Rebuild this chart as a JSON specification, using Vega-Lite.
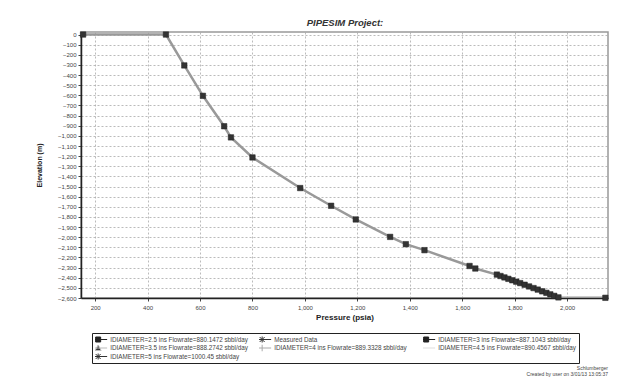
{
  "$schema": "https://vega.github.io/schema/vega-lite/v6.json",
  "width": 527,
  "height": 266,
  "autosize": {"type": "none"},
  "padding": {"left": 81, "top": 32, "right": 12, "bottom": 83},
  "background": "white",
  "title": {
    "text": "Schlumberger",
    "subtitle": "Created by user on 3/01/13 13:05:37",
    "orient": "bottom",
    "anchor": "end",
    "frame": "group",
    "fontSize": 5,
    "subtitleFontSize": 5,
    "fontWeight": "normal",
    "font": "Liberation Sans",
    "subtitleFont": "Liberation Sans",
    "color": "#444",
    "subtitleColor": "#444",
    "subtitlePadding": 1,
    "offset": 2
  },
  "config": {
    "font": "Liberation Sans",
    "view": {"stroke": "#999", "strokeWidth": 1.5},
    "legend": {"symbolSize": 4}
  },
  "datasets": {
    "profile": [
      {"series": "IDIAMETER=2.5 ins Flowrate=880.1472 sbbl/day", "pressure": 154, "elevation": 0},
      {"series": "IDIAMETER=2.5 ins Flowrate=880.1472 sbbl/day", "pressure": 470, "elevation": 0},
      {"series": "IDIAMETER=2.5 ins Flowrate=880.1472 sbbl/day", "pressure": 540, "elevation": -305},
      {"series": "IDIAMETER=2.5 ins Flowrate=880.1472 sbbl/day", "pressure": 611, "elevation": -605},
      {"series": "IDIAMETER=2.5 ins Flowrate=880.1472 sbbl/day", "pressure": 692, "elevation": -905},
      {"series": "IDIAMETER=2.5 ins Flowrate=880.1472 sbbl/day", "pressure": 718, "elevation": -1015},
      {"series": "IDIAMETER=2.5 ins Flowrate=880.1472 sbbl/day", "pressure": 800, "elevation": -1213},
      {"series": "IDIAMETER=2.5 ins Flowrate=880.1472 sbbl/day", "pressure": 982, "elevation": -1515},
      {"series": "IDIAMETER=2.5 ins Flowrate=880.1472 sbbl/day", "pressure": 1100, "elevation": -1690},
      {"series": "IDIAMETER=2.5 ins Flowrate=880.1472 sbbl/day", "pressure": 1194, "elevation": -1825},
      {"series": "IDIAMETER=2.5 ins Flowrate=880.1472 sbbl/day", "pressure": 1325, "elevation": -1997},
      {"series": "IDIAMETER=2.5 ins Flowrate=880.1472 sbbl/day", "pressure": 1385, "elevation": -2069},
      {"series": "IDIAMETER=2.5 ins Flowrate=880.1472 sbbl/day", "pressure": 1456, "elevation": -2128},
      {"series": "IDIAMETER=2.5 ins Flowrate=880.1472 sbbl/day", "pressure": 1628, "elevation": -2284},
      {"series": "IDIAMETER=2.5 ins Flowrate=880.1472 sbbl/day", "pressure": 1650, "elevation": -2309},
      {"series": "IDIAMETER=2.5 ins Flowrate=880.1472 sbbl/day", "pressure": 1732, "elevation": -2369},
      {"series": "IDIAMETER=2.5 ins Flowrate=880.1472 sbbl/day", "pressure": 1746, "elevation": -2383},
      {"series": "IDIAMETER=2.5 ins Flowrate=880.1472 sbbl/day", "pressure": 1761, "elevation": -2397},
      {"series": "IDIAMETER=2.5 ins Flowrate=880.1472 sbbl/day", "pressure": 1776, "elevation": -2411},
      {"series": "IDIAMETER=2.5 ins Flowrate=880.1472 sbbl/day", "pressure": 1791, "elevation": -2425},
      {"series": "IDIAMETER=2.5 ins Flowrate=880.1472 sbbl/day", "pressure": 1806, "elevation": -2439},
      {"series": "IDIAMETER=2.5 ins Flowrate=880.1472 sbbl/day", "pressure": 1821, "elevation": -2453},
      {"series": "IDIAMETER=2.5 ins Flowrate=880.1472 sbbl/day", "pressure": 1838, "elevation": -2469},
      {"series": "IDIAMETER=2.5 ins Flowrate=880.1472 sbbl/day", "pressure": 1855, "elevation": -2486},
      {"series": "IDIAMETER=2.5 ins Flowrate=880.1472 sbbl/day", "pressure": 1872, "elevation": -2502},
      {"series": "IDIAMETER=2.5 ins Flowrate=880.1472 sbbl/day", "pressure": 1888, "elevation": -2517},
      {"series": "IDIAMETER=2.5 ins Flowrate=880.1472 sbbl/day", "pressure": 1905, "elevation": -2534},
      {"series": "IDIAMETER=2.5 ins Flowrate=880.1472 sbbl/day", "pressure": 1921, "elevation": -2549},
      {"series": "IDIAMETER=2.5 ins Flowrate=880.1472 sbbl/day", "pressure": 1936, "elevation": -2564},
      {"series": "IDIAMETER=2.5 ins Flowrate=880.1472 sbbl/day", "pressure": 1951, "elevation": -2579},
      {"series": "IDIAMETER=2.5 ins Flowrate=880.1472 sbbl/day", "pressure": 1967, "elevation": -2594},
      {"series": "IDIAMETER=2.5 ins Flowrate=880.1472 sbbl/day", "pressure": 2146, "elevation": -2598}
    ]
  },
  "data": {"name": "profile"},
  "layer": [
    {
      "mark": {"type": "line", "stroke": "#999", "strokeWidth": 2.5, "clip": true},
      "encoding": {
        "x": {
          "field": "pressure", "type": "quantitative",
          "scale": {"domain": [146, 2156], "nice": false, "zero": false},
          "axis": {
            "title": "Pressure (psia)",
            "titleFontSize": 8, "titleFontWeight": "bold", "titleColor": "#222", "titlePadding": 3,
            "values": [200, 400, 600, 800, 1000, 1200, 1400, 1600, 1800, 2000],
            "tickCount": 20,
            "format": ",.0f",
            "labelFontSize": 6, "labelColor": "#444", "labelPadding": 3,
            "domainColor": "#222", "domainWidth": 1.5,
            "tickColor": "#444", "tickSize": 3,
            "grid": true, "gridColor": "#aaa", "gridDash": [2, 2], "gridWidth": 0.8
          }
        },
        "y": {
          "field": "elevation", "type": "quantitative",
          "scale": {"domain": [-2600, 25], "nice": false, "zero": false},
          "axis": {
            "title": "Elevation (m)",
            "titleFontSize": 7, "titleFontWeight": "bold", "titleColor": "#222", "titlePadding": 15,
            "values": [0, -100, -200, -300, -400, -500, -600, -700, -800, -900, -1000, -1100, -1200, -1300, -1400, -1500, -1600, -1700, -1800, -1900, -2000, -2100, -2200, -2300, -2400, -2500, -2600],
            "tickCount": 40,
            "labelOverlap": false,
            "format": ",.0f",
            "labelFontSize": 6, "labelColor": "#444", "labelPadding": 2,
            "domainColor": "#222", "domainWidth": 1.5,
            "tickColor": "#444", "tickSize": 3,
            "grid": true, "gridColor": "#aaa", "gridDash": [2, 2], "gridWidth": 0.8
          }
        }
      }
    },
    {
      "mark": {"type": "point", "shape": "square", "filled": true, "size": 30, "color": "#333", "opacity": 1, "stroke": "#222", "strokeWidth": 0.5},
      "encoding": {
        "x": {
          "field": "pressure", "type": "quantitative",
          "axis": {
            "orient": "top",
            "title": "PIPESIM Project:",
            "titleFontSize": 9.5, "titleFontWeight": "bold", "titleFontStyle": "italic", "titleColor": "#333",
            "titlePadding": 5,
            "labels": false, "ticks": false, "domain": false, "grid": false
          }
        },
        "y": {"field": "elevation", "type": "quantitative"}
      }
    },
    {
      "transform": [{"filter": "false"}],
      "mark": {"type": "point", "filled": true, "size": 4, "strokeWidth": 1, "opacity": 1},
      "encoding": {
        "shape": {
          "field": "series", "type": "nominal",
          "scale": {
            "domain": [
              "IDIAMETER=2.5 ins Flowrate=880.1472 sbbl/day",
              "Measured Data",
              "IDIAMETER=3 ins Flowrate=887.1043 sbbl/day",
              "IDIAMETER=3.5 ins Flowrate=888.2742 sbbl/day",
              "IDIAMETER=4 ins Flowrate=889.3328 sbbl/day",
              "IDIAMETER=4.5 ins Flowrate=890.4567 sbbl/day",
              "IDIAMETER=5 ins Flowrate=1000.45 sbbl/day"
            ],
            "range": [
              "M-7,0H9M-2.5,-2.5H2.5V2.5H-2.5Z",
              "M-7,0H9M-2.5,-2.5L2.5,2.5M-2.5,2.5L2.5,-2.5M0,-3V3",
              "M-7,0H9M-2.5,-2.5H2.5V2.5H-2.5Z",
              "M-7,0H9M0,-3L3,2.5H-3Z",
              "M-7,0H9M0,-3.5V3.5",
              "M-7,0H9",
              "M-7,0H9M-2.5,-2.5L2.5,2.5M-2.5,2.5L2.5,-2.5M0,-3V3"
            ]
          },
          "legend": {
            "title": null,
            "orient": "none",
            "legendX": 11,
            "legendY": 301,
            "columns": 3,
            "gridAlign": "all",
            "direction": "horizontal",
            "columnPadding": 11,
            "rowPadding": 1.5,
            "padding": 3,
            "clipHeight": 7,
            "strokeColor": "#222",
            "fillColor": "white",
            "labelFontSize": 6.3,
            "labelColor": "#444",
            "labelLimit": 300,
            "labelOffset": 9,
            "symbolSize": 4,
            "symbolStrokeWidth": 1
          }
        },
        "fill": {
          "field": "series", "type": "nominal",
          "scale": {
            "domain": [
              "IDIAMETER=2.5 ins Flowrate=880.1472 sbbl/day",
              "Measured Data",
              "IDIAMETER=3 ins Flowrate=887.1043 sbbl/day",
              "IDIAMETER=3.5 ins Flowrate=888.2742 sbbl/day",
              "IDIAMETER=4 ins Flowrate=889.3328 sbbl/day",
              "IDIAMETER=4.5 ins Flowrate=890.4567 sbbl/day",
              "IDIAMETER=5 ins Flowrate=1000.45 sbbl/day"
            ],
            "range": ["#222", "#222", "#222", "#333", "#333", "#ddd", "#333"]
          }
        },
        "stroke": {
          "field": "series", "type": "nominal",
          "scale": {
            "domain": [
              "IDIAMETER=2.5 ins Flowrate=880.1472 sbbl/day",
              "Measured Data",
              "IDIAMETER=3 ins Flowrate=887.1043 sbbl/day",
              "IDIAMETER=3.5 ins Flowrate=888.2742 sbbl/day",
              "IDIAMETER=4 ins Flowrate=889.3328 sbbl/day",
              "IDIAMETER=4.5 ins Flowrate=890.4567 sbbl/day",
              "IDIAMETER=5 ins Flowrate=1000.45 sbbl/day"
            ],
            "range": ["#222", "#333", "#222", "#bbb", "#aaa", "#ddd", "#333"]
          }
        }
      }
    }
  ],
  "resolve": {"axis": {"x": "independent"}}
}
